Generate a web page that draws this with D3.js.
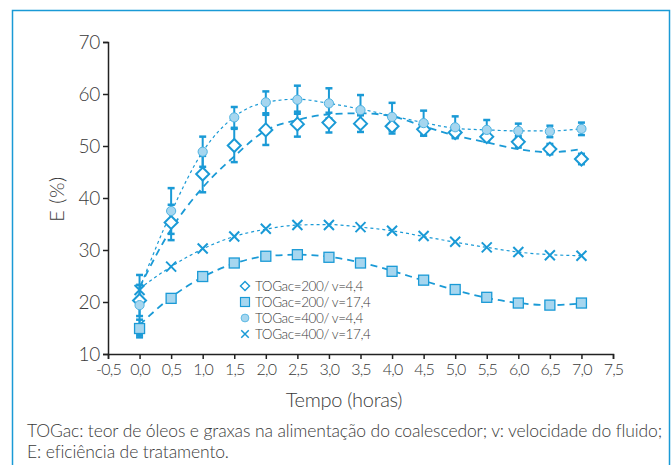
<!DOCTYPE html>
<html>
<head>
<meta charset="utf-8">
<script src="https://cdn.jsdelivr.net/npm/d3@7"></script>
<style>
  body { margin: 0; background: #fff; }
  svg { display: block; }
  svg text { font-family: "Lato", "Roboto", sans-serif; font-weight: 300; }
</style>
</head>
<body>
<div id="vis"></div>
<script>
// Frame and plot dimensions
const FRAME_HEIGHT = 465;
const FRAME_WIDTH = 672;
const MARGINS = {left: 108, right: 59, top: 42, bottom: 111};
const VIS_HEIGHT = FRAME_HEIGHT - MARGINS.top - MARGINS.bottom;
const VIS_WIDTH = FRAME_WIDTH - MARGINS.left - MARGINS.right;

const BLUE = "#1a9ad6";
const LIGHT = "#a6d6ef";
const TEXT = "#3a3a3a";

// Data
const TIME = [0, 0.5, 1.0, 1.5, 2.0, 2.5, 3.0, 3.5, 4.0, 4.5, 5.0, 5.5, 6.0, 6.5, 7.0];

// TOGac=200 / v=4,4 (diamonds)
const E_200_44 = [20.3, 35.3, 44.6, 50.1, 53.1, 54.2, 54.5, 54.3, 53.8, 53.2, 52.6, 51.8, 50.8, 49.4, 47.5];
const ERR_200_44 = [3.0, 3.4, 3.5, 3.2, 2.9, 2.4, 1.9, 1.6, 1.4, 1.2, 1.0, 1.0, 1.1, 1.0, 1.0];
const FIT_200_44 = [22.8, 34.0, 42.0, 48.0, 53.0, 55.0, 56.1, 56.3, 55.7, 53.8, 52.0, 50.7, 49.4, 48.8, 49.4];

// TOGac=200 / v=17,4 (squares)
const E_200_174 = [14.9, 20.7, 24.9, 27.5, 28.8, 29.1, 28.6, 27.5, 25.9, 24.2, 22.4, 20.9, 19.8, 19.4, 19.8];
const ERR_200_174 = [1.7, 0.5, 0.5, 0.5, 0.5, 0.5, 0.5, 0.5, 0.5, 0.5, 0.5, 0.5, 0.5, 0.5, 0.5];
const FIT_200_174 = [15.6, 20.9, 24.8, 27.4, 28.8, 29.1, 28.7, 27.6, 26.0, 24.1, 22.3, 20.8, 19.8, 19.4, 19.7];

// TOGac=400 / v=4,4 (circles)
const E_400_44 = [19.4, 37.5, 48.9, 55.5, 58.4, 58.9, 58.2, 56.9, 55.6, 54.4, 53.6, 53.1, 52.9, 52.8, 53.3];
const ERR_400_44 = [5.8, 4.4, 2.9, 2.0, 2.1, 2.7, 2.9, 2.9, 2.7, 2.4, 2.1, 1.9, 1.4, 1.1, 1.2];
const FIT_400_44 = [22.6, 37.2, 48.9, 55.6, 58.4, 59.0, 58.2, 57.1, 55.8, 54.5, 53.4, 53.1, 52.9, 52.9, 53.3];

// TOGac=400 / v=17,4 (crosses)
const E_400_174 = [22.3, 26.8, 30.3, 32.6, 34.1, 34.8, 34.8, 34.4, 33.7, 32.7, 31.6, 30.5, 29.6, 29.0, 28.9];
const FIT_400_174 = [22.6, 26.8, 30.2, 32.6, 34.0, 34.8, 34.9, 34.4, 33.7, 32.6, 31.5, 30.5, 29.6, 29.1, 28.9];

const X_TICKS = [-0.5, 0, 0.5, 1, 1.5, 2, 2.5, 3, 3.5, 4, 4.5, 5, 5.5, 6, 6.5, 7, 7.5];
const Y_TICKS = [10, 20, 30, 40, 50, 60, 70];
const LEGEND = ["TOGac=200/ v=4,4", "TOGac=200/ v=17,4", "TOGac=400/ v=4,4", "TOGac=400/ v=17,4"];
const CAPTION = ["TOGac: teor de óleos e graxas na alimentação do coalescedor; v: velocidade do fluido;",
                 "E: eficiência de tratamento."];

const FRAME = d3.select("#vis")
  .append("svg")
    .attr("width", FRAME_WIDTH)
    .attr("height", FRAME_HEIGHT);

// Outer blue box
FRAME.append("rect")
  .attr("x", 12.5).attr("y", 10.5)
  .attr("width", 657).attr("height", 470)
  .attr("fill", "none")
  .attr("stroke", BLUE)
  .attr("stroke-width", 1.5);

// Scales
const X_SCALE = d3.scaleLinear().domain([-0.5, 7.5]).range([MARGINS.left, MARGINS.left + VIS_WIDTH]);
const Y_SCALE = d3.scaleLinear().domain([10, 70]).range([MARGINS.top + VIS_HEIGHT, MARGINS.top]);

// comma decimals and a plain hyphen for negatives
const comma = (d) => d3.format(".1f")(d).replace(".", ",").replace("\u2212", "-");

// x axis
const xAxis = FRAME.append("g")
  .attr("transform", "translate(0," + (MARGINS.top + VIS_HEIGHT) + ")")
  .call(d3.axisBottom(X_SCALE).tickValues(X_TICKS).tickFormat(comma).tickSizeOuter(0).tickSize(5).tickPadding(5))
  .attr("font-family", null);
xAxis.selectAll("text")
  .attr("font-size", "16px")
  .attr("letter-spacing", "-0.8px")
  .attr("fill", TEXT);

// y axis
const yAxis = FRAME.append("g")
  .attr("transform", "translate(" + MARGINS.left + ",0)")
  .call(d3.axisLeft(Y_SCALE).tickValues(Y_TICKS).tickSizeOuter(0).tickSize(5).tickPadding(3))
  .attr("font-family", null);
yAxis.selectAll("text")
  .attr("font-size", "19px")
  .attr("letter-spacing", "-0.3px")
  .attr("fill", TEXT);

FRAME.selectAll(".domain, .tick line")
  .attr("stroke", "#222")
  .attr("stroke-width", 1.5);

// Axis titles
FRAME.append("text")
  .attr("x", 344).attr("y", 407)
  .attr("text-anchor", "middle")
  .attr("font-size", "20px")
  .attr("letter-spacing", "-0.3px")
  .attr("fill", TEXT)
  .text("Tempo (horas)");

FRAME.append("text")
  .attr("transform", "translate(64,199) rotate(-90)")
  .attr("text-anchor", "middle")
  .attr("font-size", "20px")
  .attr("letter-spacing", "0.5px")
  .attr("fill", TEXT)
  .text("E (%)");

// Caption
FRAME.selectAll(".caption")
  .data(CAPTION)
  .enter()
  .append("text")
    .attr("class", "caption")
    .attr("x", 27)
    .attr("y", (d, i) => 437 + i * 21)
    .attr("font-size", "17.5px")
    .attr("letter-spacing", "-0.12px")
    .attr("fill", TEXT)
    .text((d) => d);

// Fitted curves
const line = d3.line()
  .x((d) => X_SCALE(d[0]))
  .y((d) => Y_SCALE(d[1]))
  .curve(d3.curveMonotoneX);

const curves = [
  {vals: FIT_200_44, dash: "7,5", w: 1.8},
  {vals: FIT_200_174, dash: "7,5", w: 1.8},
  {vals: FIT_400_44, dash: "3,3", w: 1.2},
  {vals: FIT_400_174, dash: "3,3", w: 1.2}
];
curves.forEach((c) => {
  FRAME.append("path")
    .datum(TIME.map((t, i) => [t, c.vals[i]]))
    .attr("d", line)
    .attr("fill", "none")
    .attr("stroke", BLUE)
    .attr("stroke-width", c.w)
    .attr("stroke-dasharray", c.dash);
});

// Error bars
function errorBars(vals, errs) {
  const g = FRAME.append("g");
  TIME.forEach((t, i) => {
    const x = X_SCALE(t);
    const y0 = Y_SCALE(vals[i] - errs[i]);
    const y1 = Y_SCALE(vals[i] + errs[i]);
    g.append("line").attr("x1", x).attr("x2", x).attr("y1", y0).attr("y2", y1)
      .attr("stroke", BLUE).attr("stroke-width", 2);
    [y0, y1].forEach((y) => {
      g.append("line").attr("x1", x - 3.5).attr("x2", x + 3.5).attr("y1", y).attr("y2", y)
        .attr("stroke", BLUE).attr("stroke-width", 2.5);
    });
  });
}
errorBars(E_200_44, ERR_200_44);
errorBars(E_200_174, ERR_200_174);
errorBars(E_400_44, ERR_400_44);

// Marker shapes
function marker(g, type, x, y) {
  if (type === "diamond") {
    g.append("path")
      .attr("d", "M" + x + "," + (y - 6.5) + "L" + (x + 6.5) + "," + y + "L" + x + "," + (y + 6.5) + "L" + (x - 6.5) + "," + y + "Z")
      .attr("fill", "#fff").attr("stroke", BLUE).attr("stroke-width", 2);
  } else if (type === "square") {
    g.append("rect").attr("x", x - 5).attr("y", y - 5).attr("width", 10).attr("height", 10)
      .attr("fill", LIGHT).attr("stroke", BLUE).attr("stroke-width", 1.3);
  } else if (type === "circle") {
    g.append("circle").attr("cx", x).attr("cy", y).attr("r", 4.6)
      .attr("fill", LIGHT).attr("stroke", "#4fb3e2").attr("stroke-width", 1);
  } else {
    g.append("path")
      .attr("d", "M" + (x - 5) + "," + (y - 5) + "L" + (x + 5) + "," + (y + 5) + "M" + (x + 5) + "," + (y - 5) + "L" + (x - 5) + "," + (y + 5))
      .attr("fill", "none").attr("stroke", BLUE).attr("stroke-width", 2);
  }
}

const series = [
  {vals: E_200_44, type: "diamond"},
  {vals: E_200_174, type: "square"},
  {vals: E_400_44, type: "circle"},
  {vals: E_400_174, type: "cross"}
];
series.forEach((s) => {
  const g = FRAME.append("g");
  TIME.forEach((t, i) => marker(g, s.type, X_SCALE(t), Y_SCALE(s.vals[i])));
});

// Legend
const legend = FRAME.append("g");
LEGEND.forEach((label, i) => {
  const y = 286 + i * 16;
  const small = {diamond: 0.7, square: 0.9, circle: 0.85, cross: 0.75}[series[i].type];
  const mg = legend.append("g")
    .attr("transform", "translate(245," + y + ") scale(" + small + ")");
  marker(mg, series[i].type, 0, 0);
  legend.append("text")
    .attr("x", 255).attr("y", y + 5)
    .attr("font-size", "13.5px")
    .attr("letter-spacing", "-0.4px")
    .attr("fill", TEXT)
    .text(label);
});
</script>
</body>
</html>
